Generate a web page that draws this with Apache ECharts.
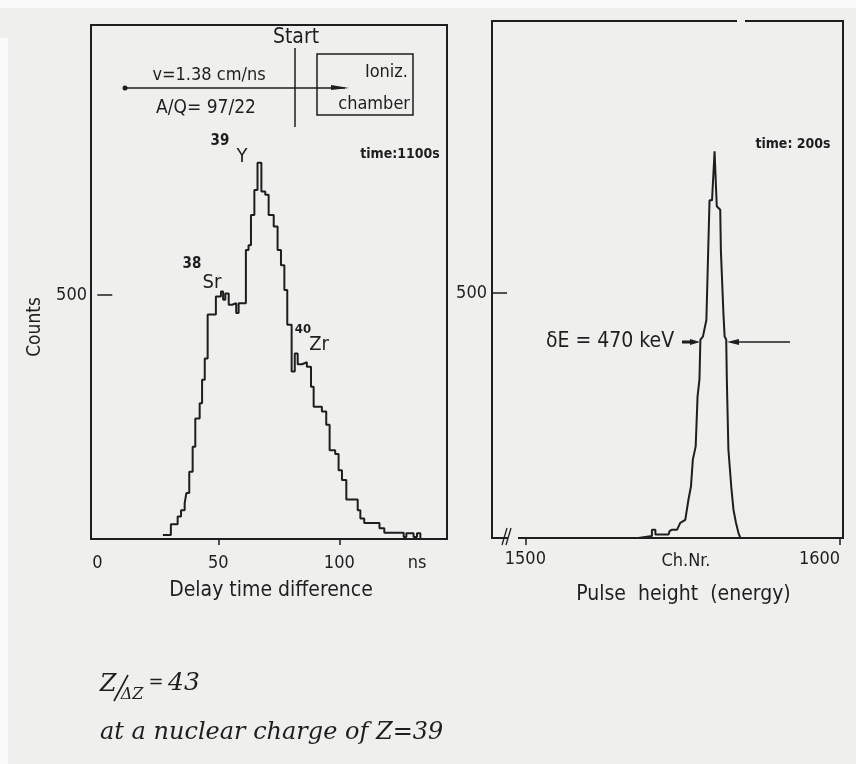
<!DOCTYPE html>
<html>
<head>
<meta charset="utf-8">
<script src="https://cdn.jsdelivr.net/npm/echarts@6/dist/echarts.min.js"></script>
<style>
  html, body { margin: 0; padding: 0; background: #efefee; }
  #chart { width: 856px; height: 764px; }
</style>
</head>
<body>
<div id="chart"></div>
<script>
// Time-of-flight spectrum: left bin edge (ns) and the counts held up to the next edge
const delayEdges = [27.1, 30.4, 33.2, 34.6, 36.1, 36.8, 38.0, 39.4, 40.5, 42.3, 43.3, 44.4, 45.6,
  49.0, 51.1, 52.0, 52.9, 54.3, 55.7, 57.4, 58.4, 61.4, 62.5, 63.5, 64.9, 66.2, 67.8, 69.4,
  70.8, 72.9, 74.5, 75.9, 77.3, 78.5, 80.3, 81.6, 82.8, 84.6, 86.6, 88.3, 89.4, 92.8, 94.6,
  96.0, 98.3, 99.7, 101.1, 102.9, 107.6, 108.7, 110.3, 116.6, 118.6, 126.6, 127.7, 130.7,
  132.1, 133.5];
const delayCounts = [8, 30, 46, 59, 73, 94, 138, 189, 247, 278, 326, 370, 460,
  497, 507, 490, 503, 480, 483, 463, 483, 592, 602, 664, 715, 771, 712, 705,
  664, 640, 592, 561, 510, 439, 343, 380, 358, 362, 353, 312, 271, 261, 234,
  182, 174, 141, 121, 81, 59, 42, 33, 22, 13, 4, 12, 4,
  12, 0];

// Ionisation chamber pulse-height spectrum: channel and counts along the trace
const pulseChannels = [1535.9, 1535.9, 1540.2, 1540.2, 1541.3, 1541.3, 1545.5, 1545.8, 1546.6, 1548.2,
  1549.2, 1550.8, 1551.8, 1552.6, 1553.2, 1554.1, 1554.7, 1555.3, 1555.6, 1556.4, 1557.5,
  1558.5, 1559.3, 1560.1, 1560.6, 1560.8, 1561.9, 1562.1, 1562.9, 1563.3, 1563.8, 1564.0,
  1564.5, 1565.4, 1566.1, 1566.9, 1567.7, 1568.3];
const pulseCounts = [0, 4, 4, 17, 17, 7, 7, 14, 17, 17,
  31, 37, 78, 105, 160, 187, 289, 323, 405, 411, 445,
  689, 689, 789, 789, 677, 670, 588, 460, 411, 405, 323,
  180, 105, 58, 31, 10, 0];

// Tick labels
const delayTicks = [0, 50, 100];
const pulseTicks = [1500, 1600];
const countTicks = [500];

const INK = '#1e1e1e';
const PAPER = '#efefee';
const FONT = "'DejaVu Sans Condensed', 'Liberation Sans Narrow', 'DejaVu Sans', sans-serif";
const HAND = "'DejaVu Serif', 'Liberation Serif', serif";

function txt(text, x, y, size, opts) {
  opts = opts || {};
  return {
    type: 'text', x: x, y: y, z: 20,
    style: {
      text: text,
      font: (opts.style || '') + ' ' + (opts.weight || 'normal') + ' ' + size + 'px ' + (opts.family || FONT),
      fill: INK,
      align: opts.align || 'center',
      verticalAlign: 'middle'
    },
    rotation: opts.rotation || 0
  };
}
function seg(x1, y1, x2, y2, w) {
  return { type: 'line', z: 20, shape: { x1: x1, y1: y1, x2: x2, y2: y2 },
           style: { stroke: INK, lineWidth: w || 1.5 } };
}
function tri(points) {
  return { type: 'polygon', z: 20, shape: { points: points }, style: { fill: INK } };
}
function patch(x, y, w, h, color) {
  return { type: 'rect', z: 15, shape: { x: x, y: y, width: w, height: h }, style: { fill: color || PAPER } };
}

const chart = echarts.init(document.getElementById('chart'), null, { renderer: 'canvas' });

const axisFont = { color: INK, fontSize: 18, fontFamily: FONT, formatter: v => String(v) };

const option = {
  backgroundColor: PAPER,
  animation: false,
  grid: [
    { left: 91, top: 25, width: 356, height: 514, show: true, borderColor: INK, borderWidth: 2,
      outerBoundsMode: 'none', containLabel: false },
    { left: 492, top: 21, width: 351, height: 517, show: true, borderColor: INK, borderWidth: 2,
      outerBoundsMode: 'none', containLabel: false }
  ],
  xAxis: [
    {
      gridIndex: 0, type: 'value', min: -2.6, max: 144.5,
      axisLine: { show: false }, splitLine: { show: false },
      axisTick: { show: true, customValues: [50, 100], length: 6, lineStyle: { color: INK, width: 1.5 } },
      axisLabel: Object.assign({ customValues: delayTicks, margin: 15 }, axisFont),
      name: 'Delay time difference', nameLocation: 'middle', nameGap: 41,
      nameTextStyle: { color: INK, fontSize: 21, fontFamily: FONT, padding: [0, 0, 0, 4] }
    },
    {
      gridIndex: 1, type: 'value', min: 1489.4, max: 1600.9,
      axisLine: { show: false }, splitLine: { show: false },
      axisTick: { show: true, customValues: pulseTicks, length: 7, lineStyle: { color: INK, width: 1.5 } },
      axisLabel: Object.assign({ customValues: pulseTicks, margin: 12, alignMaxLabel: 'right' }, axisFont),
      name: 'Pulse  height  (energy)', nameLocation: 'middle', nameGap: 46,
      nameTextStyle: { color: INK, fontSize: 21, fontFamily: FONT, padding: [0, 0, 0, 32] }
    }
  ],
  yAxis: [
    {
      gridIndex: 0, type: 'value', min: 0, max: 1053,
      axisLine: { show: false }, splitLine: { show: false },
      axisTick: { show: true, inside: true, customValues: countTicks, length: 15, lineStyle: { color: INK, width: 1.5 } },
      axisLabel: Object.assign({ customValues: countTicks, margin: 4 }, axisFont)
    },
    {
      gridIndex: 1, type: 'value', min: 0, max: 1055,
      axisLine: { show: false }, splitLine: { show: false },
      axisTick: { show: true, inside: true, customValues: countTicks, length: 15, lineStyle: { color: INK, width: 1.5 } },
      axisLabel: Object.assign({ customValues: countTicks, margin: 5 }, axisFont)
    }
  ],
  series: [
    {
      name: 'delay', type: 'line', xAxisIndex: 0, yAxisIndex: 0, step: 'end',
      showSymbol: false, silent: true,
      data: delayEdges.map((e, i) => [e, delayCounts[i]]),
      lineStyle: { color: INK, width: 2 }
    },
    {
      name: 'pulse', type: 'line', xAxisIndex: 1, yAxisIndex: 1,
      showSymbol: false, silent: true,
      data: pulseChannels.map((c, i) => [c, pulseCounts[i]]),
      lineStyle: { color: INK, width: 2 }
    }
  ],
  graphic: { elements: [
    // paper edges
    patch(0, 0, 856, 8, '#fafafa'),
    patch(0, 38, 8, 726, '#fafafa'),

    // flight-path sketch
    { type: 'circle', z: 20, shape: { cx: 125, cy: 88, r: 2.5 }, style: { fill: INK } },
    seg(125, 88, 345, 88, 1.5),
    tri([[349, 88], [331, 85], [331, 90]]),
    seg(295, 48, 295, 127, 1.5),
    { type: 'rect', z: 20, shape: { x: 317, y: 54, width: 96, height: 61 },
      style: { fill: 'none', stroke: INK, lineWidth: 1.5 } },
    txt('Start', 296, 38, 21),
    txt('v=1.38 cm/ns', 209, 75, 18),
    txt('A/Q= 97/22', 206, 108, 19),
    txt('Ioniz.', 408, 72, 18, { align: 'right' }),
    txt('chamber', 410, 104, 18, { align: 'right' }),
    txt('time:1100s', 400, 154, 14, { weight: 'bold' }),

    // isotope labels
    txt('39', 220, 141, 15, { weight: 'bold' }),
    txt('Y', 242, 157, 20),
    txt('38', 192, 264, 15, { weight: 'bold' }),
    txt('Sr', 212, 283, 20),
    txt('40', 303, 330, 13, { weight: 'bold' }),
    txt('Zr', 319, 345, 20),

    txt('ns', 417, 563, 18),
    txt('Counts', 35, 327, 19, { rotation: Math.PI / 2 }),

    // pulse-height panel annotations
    txt('time: 200s', 793, 144, 14, { weight: 'bold' }),
    txt('δE = 470 keV', 610, 342, 21),
    seg(682, 342, 694, 342, 3),
    tri([[700, 342], [690, 339], [690, 345]]),
    seg(736, 342, 790, 342, 1.5),
    tri([[727, 342], [739, 339], [739, 345]]),
    txt('Ch.Nr.', 686, 561, 18),

    // axis break and gap in the frame
    patch(508, 534, 10, 8),
    patch(737, 17, 8, 8),
    seg(502, 545, 507, 528, 1.3),
    seg(506, 545, 511, 528, 1.3),

    // handwritten note
    txt('Z', 108, 685, 24, { style: 'italic', family: HAND }),
    seg(114, 701, 128, 675, 1.6),
    txt('ΔZ', 132, 695, 16, { style: 'italic', family: HAND }),
    txt('=', 156, 683, 18, { family: HAND }),
    txt('43', 168, 683, 25, { style: 'italic', family: HAND, align: 'left' }),
    txt('at a nuclear charge of Z=39', 100, 733, 24, { style: 'italic', family: HAND, align: 'left' })
  ] }
};

chart.setOption(option);
</script>
</body>
</html>
